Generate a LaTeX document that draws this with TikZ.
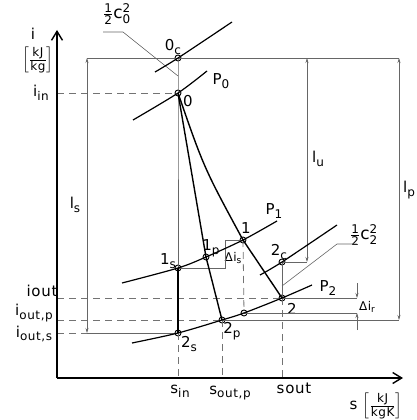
\documentclass[tikz,border=0pt]{standalone}
\usepackage{amsmath}
\usepackage{fontspec}
\setmainfont{DejaVu Sans}[LetterSpace=5]
\usetikzlibrary{arrows.meta}

\newcommand{\lo}[1]{\raisebox{-0.45ex}{\fontsize{12}{12}\selectfont #1}}
\newcommand{\los}[1]{\raisebox{-0.4ex}{\fontsize{9}{9}\selectfont #1}}
\newcommand{\fs}[1]{\mbox{\fontsize{12}{12}\selectfont #1}}
\newcommand{\halfcc}[1]{$\genfrac{}{}{0.7pt}{}{\fs{1}}{\fs{2}}$\fontsize{17}{17}\selectfont c$^{\fs{2}}_{\fs{#1}}$}
\newcommand{\unitfrac}[2]{$\left[\genfrac{}{}{0.7pt}{}{\fs{#1}}{\fs{#2}}\right]$}

\tikzstyle{state} = [circle, draw=black, line width=0.9pt, inner sep=0pt, minimum size=6pt]
\tikzstyle{lbl} = [inner sep=0pt, font=\fontsize{15}{17}\selectfont]
\tikzstyle{slbl} = [inner sep=0pt, font=\fontsize{12}{14}\selectfont]
\tikzstyle{axisline} = [line width=1.8pt, -{Straight Barb[length=9pt,width=11pt,line width=1.4pt]}]
\tikzstyle{isobar} = [line width=1.2pt]
\tikzstyle{expansion} = [line width=1.4pt]
\tikzstyle{helper} = [line width=0.6pt, black!60]
\tikzstyle{dimline} = [helper, {Stealth[length=5pt,width=3pt]}-{Stealth[length=5pt,width=3pt]}]
\tikzstyle{dimarrow} = [helper, -{Stealth[length=5pt,width=3pt]}]
\tikzstyle{guide} = [line width=0.8pt, black!55, dash pattern=on 7pt off 5pt]

\begin{document}
\begin{tikzpicture}[x=1pt,y=-1pt]
\useasboundingbox (0,0) rectangle (417,420);

    % Nodes
    \node[state] (pt0c) at (178,58) {};
    \node[state] (pt0) at (178,93) {};
    \node[state] (pt1s) at (178,268) {};
    \node[state] (pt1p) at (206,257) {};
    \node[state] (pt1) at (243,240) {};
    \node[state] (pt2c) at (282,262) {};
    \node[state] (pt2) at (282,298) {};
    \node[state] (pt2p) at (222,320) {};
    \node[state] (pt2s) at (178,333) {};
    \node[state] (pt2x) at (244,313) {};

    % Coordinates
    \coordinate (origin) at (57,378);
    \coordinate (itip) at (57,30);
    \coordinate (stip) at (403,378);
    \coordinate (ain) at (57,93);
    \coordinate (aout) at (57,298);
    \coordinate (aoutp) at (57,320);
    \coordinate (aouts) at (57,333);
    \coordinate (sin) at (178,378);
    \coordinate (soutp) at (222,378);
    \coordinate (sout) at (282,378);
    \coordinate (lstop) at (87,58);
    \coordinate (lsbot) at (87,333);
    \coordinate (lutop) at (307,58);
    \coordinate (lubot) at (307,262);
    \coordinate (lptop) at (399,58);
    \coordinate (lpbot) at (399,320);
    \coordinate (dsa) at (225,268);
    \coordinate (dsb) at (225,240);
    \coordinate (drtop) at (357,283);
    \coordinate (dra) at (357,298);
    \coordinate (drb) at (357,313);
    \coordinate (drbot) at (357,330);
    \coordinate (cza) at (103,32);
    \coordinate (czb) at (123,32);
    \coordinate (czc) at (178,76);
    \coordinate (ctwa) at (357,244);
    \coordinate (ctwb) at (337,244);
    \coordinate (ctwc) at (282,286);

    % Labels
    \node[lbl] (lbli) at (33,34) {i};
    \node[lbl] (lbliunit) at (38,60) {\unitfrac{kJ}{kg}};
    \node[lbl] (lbliin) at (41,93) {i\lo{in}};
    \node[lbl] (lbliout) at (42,291) {iout};
    \node[lbl] (lblioutp) at (34,313) {i\lo{out,p}};
    \node[lbl] (lblaouts) at (34,334) {i\lo{out,s}};
    \node[lbl] (lbl0c) at (173,47) {0\lo{c}};
    \node[lbl] (lbl0) at (188,101) {0};
    \node[lbl] (lblP0) at (221,81) {P\lo{0}};
    \node[lbl] (lbl1s) at (168,261) {1\lo{s}};
    \node[lbl] (lbl1p) at (211,248) {1\lo{p}};
    \node[lbl] (lbl1) at (246,228) {1};
    \node[lbl] (lbl2c) at (279,252) {2\lo{c}};
    \node[lbl] (lbl2) at (292,309) {2};
    \node[lbl] (lbl2p) at (232,331) {2\lo{p}};
    \node[lbl] (lbl2s) at (189,344) {2\lo{s}};
    \node[lbl] (lblP1) at (274,211) {P\lo{1}};
    \node[lbl] (lblP2) at (328,288) {P\lo{2}};
    \node[slbl] (lbldis) at (233,258) {Δi\los{s}};
    \node[slbl] (lbldir) at (367,307) {Δi\los{r}};
    \node[lbl] (lblls) at (75,205) {l\lo{s}};
    \node[lbl] (lbllu) at (318,159) {l\lo{u}};
    \node[lbl, anchor=west] (lbllp) at (403,190) {l\lo{p}};
    \node[lbl] (lblsin) at (180,391) {s\lo{in}};
    \node[lbl] (lblsoutp) at (230,393) {s\lo{out,p}};
    \node[lbl] (lblsout) at (294,388) {sout};
    \node[lbl] (lblsaxis) at (376,406) {s \unitfrac{kJ}{kgK}};
    \node[lbl] (lblcz) at (117,14) {\halfcc{0}};
    \node[lbl] (lblctw) at (364,235) {\halfcc{2}};

    % Guide lines
    \draw[guide] (ain) -- (pt0.center);
    \draw[guide] (aout) -- (pt2.center);
    \draw[guide] (aoutp) -- (pt2p.center);
    \draw[guide] (aouts) -- (pt2s.center);
    \draw[guide] (pt2s.center) -- (sin);
    \draw[guide] (pt2p.center) -- (soutp);
    \draw[guide] (pt2.center) -- (sout);
    \draw[guide] (pt1.center) -- (pt2x.center);

    % Dimension lines
    \draw[helper] (lstop) -- (lptop);
    \draw[helper] (lsbot) -- (pt2s.center);
    \draw[helper] (pt2c.center) -- (lubot);
    \draw[helper] (pt2p.center) -- (lpbot);
    \draw[dimline] (lstop) -- (lsbot);
    \draw[dimline] (lutop) -- (lubot);
    \draw[dimline] (lptop) -- (lpbot);
    \draw[helper] (pt1s.center) -- (dsa) -- (dsb) -- (pt1.center);
    \draw[helper] (pt2.center) -- (dra);
    \draw[helper] (pt2x.center) -- (drb);
    \draw[dimarrow] (drtop) -- (dra);
    \draw[dimarrow] (drbot) -- (drb);
    \draw[helper] (pt2c.center) -- (pt2.center);
    \draw[helper] (cza) -- (czb) -- (czc);
    \draw[helper] (ctwa) -- (ctwb) -- (ctwc);
    \draw[helper] (pt0c.center) -- (pt0.center) -- (pt1s.center);

    % Axes
    \draw[axisline] (origin) -- (itip);
    \draw[axisline] (origin) -- (stip);

    % Isobars
    \draw[isobar] plot[smooth] coordinates {(155,72) (pt0c.center) (232,22)};
    \draw[isobar] plot[smooth] coordinates {(133,120) (pt0.center) (207,71)};
    \draw[isobar] plot[smooth] coordinates {(122,283) (pt1s.center) (pt1p.center) (pt1.center) (277,221)};
    \draw[isobar] plot[smooth] coordinates {(132,343) (pt2s.center) (pt2p.center) (pt2x.center) (pt2.center) (312,285)};
    \draw[isobar] plot[smooth] coordinates {(260,275) (pt2c.center) (337,225)};

    % Expansion lines
    \draw[expansion] (pt1s.center) -- (pt2s.center);
    \draw[expansion] (pt0.center) -- (pt1p.center) -- (pt2p.center);
    \draw[expansion] (pt0.center) .. controls (204,168) .. (pt1.center) -- (pt2.center);

\end{tikzpicture}
\end{document}
